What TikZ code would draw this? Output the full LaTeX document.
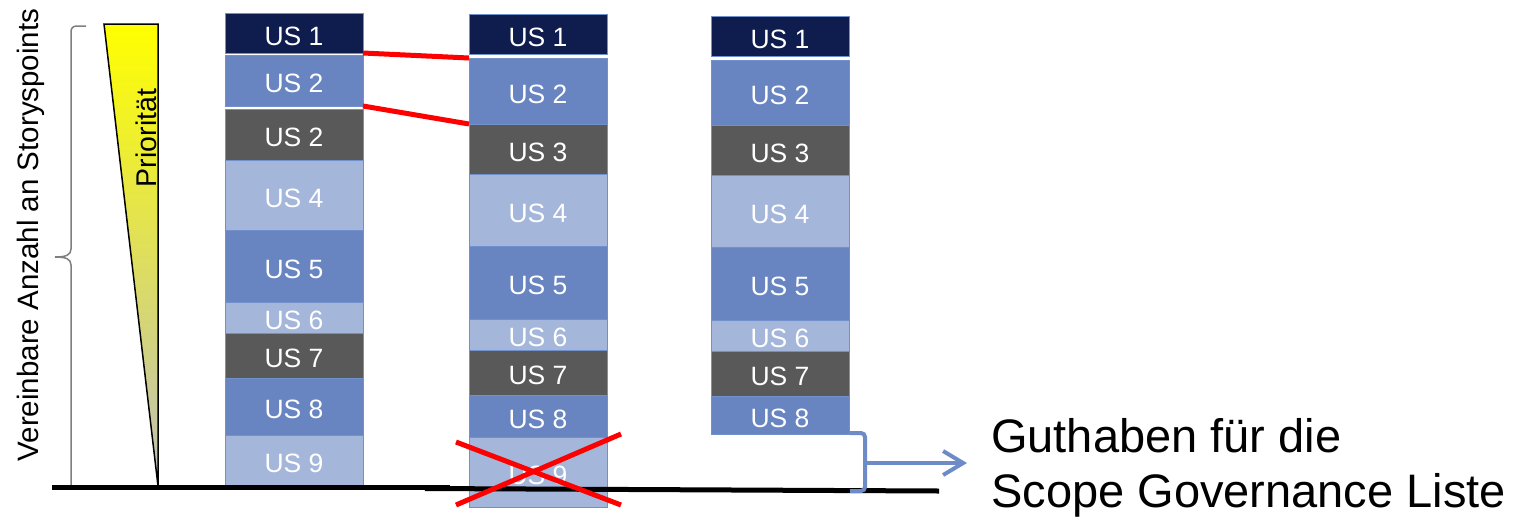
\documentclass[tikz,border=0pt]{standalone}
\usepackage{fontspec}
\setmainfont{Liberation Sans}
\usetikzlibrary{arrows.meta}
\definecolor{usnavy}{HTML}{0F1C4E}
\definecolor{usmid}{HTML}{6885C2}
\definecolor{uslight}{HTML}{A5B6DB}
\definecolor{usgray}{HTML}{595959}
\definecolor{usborder}{HTML}{7291CC}
\definecolor{bracegray}{HTML}{7F7F7F}
\definecolor{arrowblue}{HTML}{6D8BC6}
\definecolor{prgray}{HTML}{BEBEBA}
\tikzset{
  usbox/.style={draw=usborder, line width=0.75pt, text=white, inner sep=0pt, outer sep=0pt,
    minimum width=138pt, text height=24pt, text depth=0pt, font=\fontsize{26.5}{30}\selectfont},
  navy/.style={usbox, fill=usnavy},
  mid/.style={usbox, fill=usmid},
  light/.style={usbox, fill=uslight},
  dark/.style={usbox, fill=usgray},
  redline/.style={draw=red, line width=5pt},
  groundline/.style={draw=black, line width=5pt},
  bracketline/.style={draw=arrowblue, line width=4pt},
  bracestyle/.style={draw=bracegray, line width=1.5pt},
}
\begin{document}
\begin{tikzpicture}[x=1pt,y=-1pt]
\useasboundingbox (0,0) rectangle (1520,520);

% axis label
\node[rotate=90, font=\fontsize{29.5}{34}\selectfont] (axis) at (31,235) {Vereinbare Anzahl an Storyspoints};

% brace
\draw[bracestyle] (86,26) -- (77,26) .. controls (73,26) and (71,28) .. (71,32) -- (71,249)
  .. controls (71,255) and (66,257) .. (55,257)
  .. controls (66,257) and (71,259) .. (71,265) -- (71,486);

% priority triangle
\shade[top color=yellow, bottom color=prgray] (104,24) -- (158,24) -- (158,486) -- cycle;
\draw[black, line width=1.5pt, line join=miter] (104,24) -- (158,24) -- (158,486) -- cycle;
\node[rotate=90, font=\fontsize{28.5}{32}\selectfont] (prio) at (146,138) {Priorität};

% column 1
\node[navy,  minimum height=40pt] (c1u1) at (294,33)    {US 1};
\node[mid,   minimum height=51pt] (c1u2) at (294,80.5)  {US 2};
\node[dark,  minimum height=51pt] (c1u2b) at (294,134.5) {US 2};
\node[light, minimum height=70pt] (c1u4) at (294,195)   {US 4};
\node[mid,   minimum height=72pt] (c1u5) at (294,266)   {US 5};
\node[light, minimum height=31pt] (c1u6) at (294,317.5) {US 6};
\node[dark,  minimum height=45pt] (c1u7) at (294,355.5) {US 7};
\node[mid,   minimum height=57pt] (c1u8) at (294,406.5) {US 8};
\node[light, minimum height=51pt] (c1u9) at (294,460.5) {US 9};

% column 2
\node[navy,  minimum height=40pt] (c2u1) at (538,34)    {US 1};
\node[mid,   minimum height=66pt] (c2u2) at (538,91)    {US 2};
\node[dark,  minimum height=50pt] (c2u3) at (538,149)   {US 3};
\node[light, minimum height=72pt] (c2u4) at (538,210)   {US 4};
\node[mid,   minimum height=73pt] (c2u5) at (538,282.5) {US 5};
\node[light, minimum height=31pt] (c2u6) at (538,334.5) {US 6};
\node[dark,  minimum height=45pt] (c2u7) at (538,372.5) {US 7};
\node[mid,   minimum height=42pt] (c2u8) at (538,416)   {US 8};
\node[light, minimum height=70pt] (c2u9) at (538,472)   {US 9};

% column 3
\node[navy,  minimum height=40pt] (c3u1) at (780,36)    {US 1};
\node[mid,   minimum height=65pt] (c3u2) at (780,92.5)  {US 2};
\node[dark,  minimum height=50pt] (c3u3) at (780,150)   {US 3};
\node[light, minimum height=72pt] (c3u4) at (780,211)   {US 4};
\node[mid,   minimum height=73pt] (c3u5) at (780,283.5) {US 5};
\node[light, minimum height=31pt] (c3u6) at (780,335.5) {US 6};
\node[dark,  minimum height=45pt] (c3u7) at (780,373.5) {US 7};
\node[mid,   minimum height=38pt] (c3u8) at (780,415)   {US 8};

% red connectors
\draw[redline] (c1u1.south east) -- (c2u2.north west);
\draw[redline] (c1u2.south east) -- (c2u3.north west);

% ground line
\draw[groundline] (52,487) -- (450,487);
\draw[groundline] (425,488.5) -- (939,491);

% red cross
\coordinate (x1) at (456,442);
\coordinate (x2) at (621,505);
\coordinate (x3) at (456,505);
\coordinate (x4) at (621,434);
\draw[redline] (x1) -- (x2);
\draw[redline] (x3) -- (x4);

% bracket and arrow
\draw[bracketline, rounded corners=4pt] (850,433) -| (865,491) -- (850,491);
\coordinate (bmid) at (865,463);
\coordinate (atip) at (967,463);
\draw[bracketline, -{Straight Barb[length=20pt,width=24pt]}] (bmid) -- (atip);

% text
\node[anchor=base west, inner sep=0pt, font=\fontsize{47}{55}\selectfont] (g1) at (991,452) {Guthaben für die};
\node[anchor=base west, inner sep=0pt, font=\fontsize{47}{55}\selectfont] (g2) at (991,507) {Scope Governance Liste};
\end{tikzpicture}
\end{document}
